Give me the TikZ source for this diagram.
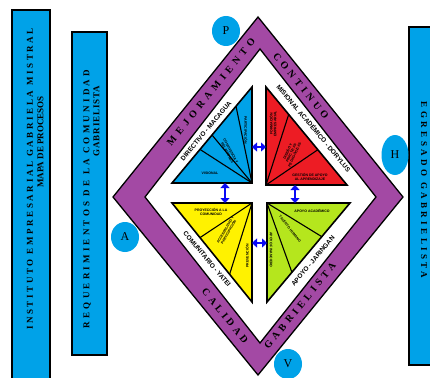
\documentclass[tikz,border=0pt]{standalone}
\usepackage{fontspec}
\setmainfont{Liberation Serif}
\newfontfamily\bandfont{Liberation Serif Bold}
\newfontfamily\rectfont{Liberation Serif Bold}
\newfontfamily\lblfont{Liberation Sans}
\usetikzlibrary{arrows.meta,calc,shapes.geometric}
\definecolor{cyanb}{RGB}{0,162,232}
\definecolor{purp}{RGB}{163,73,164}
\definecolor{redt}{RGB}{237,28,36}
\definecolor{yelt}{RGB}{255,242,0}
\definecolor{grnt}{RGB}{181,230,29}
\definecolor{arrb}{RGB}{10,10,245}
\newcommand{\ls}[2]{{\addfontfeature{LetterSpace=#1}#2}}
\tikzset{
  sidebox/.style={draw=black,line width=1.6pt,fill=cyanb,inner sep=0pt},
  sidetxt/.style={font=\rectfont\fontsize{9}{10}\selectfont,inner sep=0pt},
  bandtxt/.style={font=\bandfont\fontsize{10}{11}\selectfont,inner sep=0pt},
  proctxt/.style={font=\lblfont\bfseries\fontsize{6.5}{7}\selectfont,inner sep=0pt},
  tinytxt/.style={font=\lblfont\bfseries\fontsize{3.5}{3.9}\selectfont,inner sep=0pt,align=center},
  tri/.style={draw=black,line width=1.6pt,line join=miter},
  fan/.style={draw=black,line width=1.1pt},
  dblarrow/.style={draw=arrb,line width=2.6pt,{Triangle[length=5pt,width=9pt]}-{Triangle[length=5pt,width=9pt]}},
  letter/.style={fill=cyanb,ellipse,inner sep=0pt,font=\fontsize{12}{12}\selectfont},
}
\begin{document}
\begin{tikzpicture}[x=1pt,y=-1pt]
\clip (0,0) rectangle (430,377);
\fill[white] (0,0) rectangle (430,377);
% side boxes
\node[sidebox,minimum width=38pt,minimum height=400pt] (inst) at (31,210) {};
\node[sidebox,minimum width=35pt,minimum height=323pt] (req) at (89.5,193.5) {};
\node[sidebox,minimum width=40pt,minimum height=338pt] (egr) at (429,196) {};
\node[sidetxt,rotate=90] (instA) at (30,179) {\ls{29}{INSTITUTO EMPRESARIAL GABRIELA MISTRAL}};
\node[sidetxt,rotate=90] (instB) at (40.5,142) {MAPA DE PROCESOS};
\node[sidetxt,rotate=90] (reqA) at (87,199) {\ls{36}{REQUERIMIENTOS DE LA COMUNIDAD}};
\node[sidetxt,rotate=90] (reqB) at (96.5,121) {\ls{10}{GABRIELISTA}};
\node[sidetxt,rotate=-90] (egrA) at (424,190) {\ls{38}{EGRESADO GABRIELISTA}};
% diamond
\coordinate (oT) at (258,17); \coordinate (oR) at (403,197);
\coordinate (oB) at (258,375); \coordinate (oL) at (113,197);
\coordinate (iT) at (260,49); \coordinate (iR) at (376,197);
\coordinate (iB) at (260,343); \coordinate (iL) at (145,197);
\draw[fill=purp,line width=1.3pt,line join=miter] (oT) -- (oR) -- (oB) -- (oL) -- cycle;
\draw[fill=white,line width=1.3pt,line join=miter] (iT) -- (iR) -- (iB) -- (iL) -- cycle;
% band labels
\node[bandtxt,rotate=51] (mej) at (211,92) {\ls{45}{MEJORAMIENTO}};
\node[bandtxt,rotate=-51] (con) at (301,86) {\ls{39}{CONTINUO}};
\node[bandtxt,rotate=-51] (cal) at (225,316) {\ls{34}{CALIDAD}};
\node[bandtxt,rotate=51] (gab) at (300,306) {\ls{39}{GABRIELISTA}};
% circles
\node[letter,minimum width=28pt,minimum height=30pt] (P) at (226,31) {P};
\node[letter,minimum width=28pt,minimum height=30pt] (A) at (125,237) {A};
\node[letter,minimum width=27pt,minimum height=40pt] (H) at (395,155) {H};
\node[letter,minimum width=28pt,minimum height=30pt] (V) at (288,364) {V};
% triangles
\coordinate (bL) at (172,183); \coordinate (bC) at (252,183); \coordinate (bT) at (252,87);
\coordinate (rT) at (266,87); \coordinate (rC) at (266,185); \coordinate (rR) at (347,185);
\coordinate (yL) at (172,203); \coordinate (yC) at (252,203); \coordinate (yB) at (252,302);
\coordinate (gR) at (350,203); \coordinate (gC) at (267,203); \coordinate (gB) at (267,302);
\fill[cyanb] (bL) -- (bC) -- (bT) -- cycle;
\fill[redt] (rT) -- (rC) -- (rR) -- cycle;
\fill[yelt] (yL) -- (yC) -- (yB) -- cycle;
\fill[grnt] (gR) -- (gC) -- (gB) -- cycle;
\foreach \t in {0.35,0.5,0.8} \draw[fan] (bC) -- ($(bL)!\t!(bT)$);
\foreach \t in {0.28,0.64} \draw[fan] (rC) -- ($(rT)!\t!(rR)$);
\foreach \t in {0.35,0.72} \draw[fan] (yC) -- ($(yL)!\t!(yB)$);
\foreach \t in {0.34,0.7} \draw[fan] (gC) -- ($(gR)!\t!(gB)$);
\draw[tri] (bL) -- (bC) -- (bT) -- cycle;
\draw[tri] (rT) -- (rC) -- (rR) -- cycle;
\draw[tri] (yL) -- (yC) -- (yB) -- cycle;
\draw[tri] (gR) -- (gC) -- (gB) -- cycle;
% process labels
\node[proctxt,rotate=50] (dir) at (206,131) {DIRECTIVO - MACAGUA};
\node[proctxt,rotate=-50] (mis) at (314,128) {MISIONAL ACADÉMICO - DORYLUS};
\node[proctxt,rotate=-50] (com) at (207,259) {COMUNITARIO - YATEI};
\node[proctxt,rotate=50] (apo) at (313,261) {APOYO - JARINGAN};
% tiny labels
\node[tinytxt] (vis) at (210,173) {VISIONAL};
\node[tinytxt,rotate=-62] (conv) at (229,152) {CONVIVENCIA Y\\RELACIONES};
\node[tinytxt,rotate=-90] (part) at (246,130) {PARTICIPACIÓN};
\node[tinytxt,rotate=90] (form) at (273,124) {FORMACIÓN\\EMPRESARIAL};
\node[tinytxt,rotate=65] (dis) at (291,153) {DISEÑO Y\\PRÁCTICAS\\PEDAGÓGICAS};
\node[tinytxt] (ges) at (310,177) {GESTIÓN DE APOYO\\AL APRENDIZAJE};
\node[tinytxt] (proy) at (211,212) {PROYECCIÓN A LA\\COMUNIDAD};
\node[tinytxt,rotate=60] (acc) at (227,231) {ACCESIBILIDAD Y\\PARTICIPACIÓN};
\node[tinytxt,rotate=90] (prev) at (247,256) {PREVENCIÓN};
\node[tinytxt] (acad) at (312,211) {APOYO ACADÉMICO};
\node[tinytxt,rotate=-52] (tal) at (290,229) {TALENTO HUMANO};
\node[tinytxt,rotate=-90] (fin) at (271,250) {APOYO FINANCIERO};
% arrows
\coordinate (a1) at (252,147); \coordinate (a2) at (266,147);
\coordinate (a3) at (225,183); \coordinate (a4) at (225,203);
\coordinate (a5) at (295,185); \coordinate (a6) at (295,203);
\coordinate (a7) at (252,243); \coordinate (a8) at (267,243);
\draw[dblarrow] (a1) -- (a2);
\draw[dblarrow] (a3) -- (a4);
\draw[dblarrow] (a5) -- (a6);
\draw[dblarrow] (a7) -- (a8);
\end{tikzpicture}
\end{document}
